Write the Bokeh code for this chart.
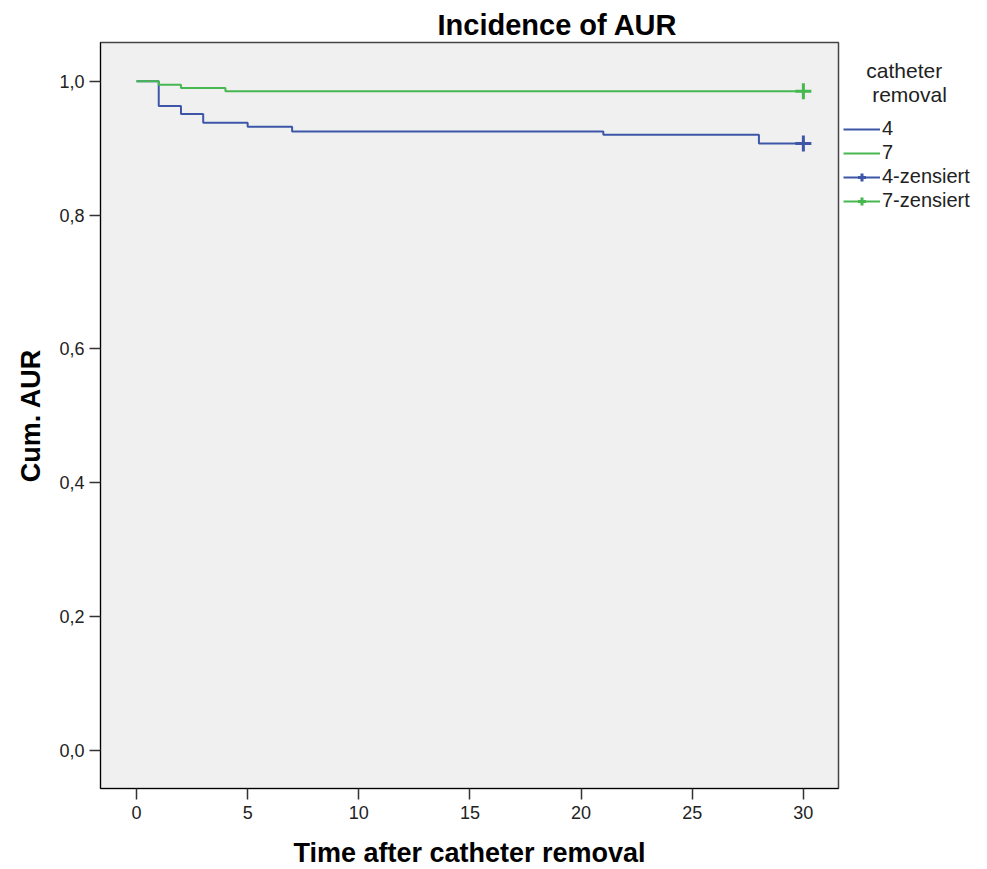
from bokeh.plotting import figure
from bokeh.models import (FixedTicker, CustomJSTickFormatter, Legend, LegendItem,
                          ColumnDataSource, Range1d)
from bokeh.embed import file_html
from bokeh.resources import INLINE

# ---- data ----
title_text = "Incidence of AUR"
x_label = "Time after catheter removal"
y_label = "Cum. AUR"
legend_title = "\u00a0\u00a0\u00a0\u00a0catheter\n\u00a0\u00a0\u00a0\u00a0\u00a0removal"
group_labels = ["4", "7"]
censor_labels = ["4-zensiert", "7-zensiert"]

times_4 = [0, 1, 2, 3, 5, 7, 21, 28, 30]
surv_4 = [1.0, 0.963, 0.951, 0.938, 0.932, 0.925, 0.920, 0.907, 0.907]
times_7 = [0, 1, 2, 4, 30]
surv_7 = [1.0, 0.995, 0.990, 0.985, 0.985]
censor_time_4 = [30]
censor_surv_4 = [0.907]
censor_time_7 = [30]
censor_surv_7 = [0.985]

x_ticks = [0, 5, 10, 15, 20, 25, 30]
y_ticks = [0.0, 0.2, 0.4, 0.6, 0.8, 1.0]

BLUE = "#3D56A8"
GREEN = "#46B850"
FONT = "Liberation Sans"
FW, FH = 738, 746

p = figure(frame_width=FW, frame_height=FH,
           x_range=Range1d(-1.62, 31.58), y_range=Range1d(-0.057, 1.058),
           output_backend="svg", toolbar_location=None,
           min_border_left=100, min_border_right=0, min_border_top=42, min_border_bottom=76,
           background_fill_color="#F0F0F0", border_fill_color="white",
           outline_line_color="#444444", outline_line_width=1.5)

p.title.text = title_text
p.title.align = "left"
p.title.offset = 337
p.title.text_font = FONT
p.title.text_font_size = "29px"
p.title.text_font_style = "bold"
p.title.text_color = "black"
p.title.standoff = 3

p.xgrid.visible = False
p.ygrid.visible = False

src4 = ColumnDataSource(dict(t=times_4, s=surv_4))
src7 = ColumnDataSource(dict(t=times_7, s=surv_7))

r4 = p.step("t", "s", source=src4, mode="after", line_color=BLUE, line_width=2)
r7 = p.step("t", "s", source=src7, mode="after", line_color=GREEN, line_width=2)
c4 = p.scatter(censor_time_4, censor_surv_4, marker="cross", size=16, line_width=3, line_color=BLUE)
c7 = p.scatter(censor_time_7, censor_surv_7, marker="cross", size=16, line_width=3, line_color=GREEN)

for ax in (p.xaxis[0], p.yaxis[0]):
    ax.axis_line_color = "black"
    ax.axis_line_width = 1
    ax.major_tick_out = 11
    ax.major_tick_in = 0
    ax.major_tick_line_color = "#333333"
    ax.major_tick_line_width = 1.5
    ax.minor_tick_line_color = None
    ax.major_label_text_font = FONT
    ax.major_label_text_font_size = "18px"
    ax.major_label_text_color = "#222222"
    ax.axis_label_text_font = FONT
    ax.axis_label_text_font_size = "27px"
    ax.axis_label_text_font_style = "bold"
    ax.axis_label_text_color = "black"

p.xaxis[0].ticker = FixedTicker(ticks=x_ticks)
p.xaxis[0].axis_label = x_label
p.xaxis[0].major_label_standoff = 6
p.xaxis[0].axis_label_standoff = 16

p.yaxis[0].ticker = FixedTicker(ticks=y_ticks)
p.yaxis[0].formatter = CustomJSTickFormatter(code="return tick.toFixed(1).replace('.', ',');")
p.yaxis[0].axis_label = y_label
p.yaxis[0].major_label_standoff = 5
p.yaxis[0].axis_label_standoff = 10

legend = Legend(items=[
    LegendItem(label=group_labels[0], renderers=[r4]),
    LegendItem(label=group_labels[1], renderers=[r7]),
    LegendItem(label=censor_labels[0], renderers=[r4, c4]),
    LegendItem(label=censor_labels[1], renderers=[r7, c7]),
], title=legend_title)
legend.title_text_font = FONT
legend.title_text_font_size = "21px"
legend.title_text_font_style = "normal"
legend.title_text_color = "#222222"
legend.title_standoff = 10
legend.label_text_font = FONT
legend.label_text_font_size = "20px"
legend.label_text_color = "#222222"
legend.label_standoff = 2
legend.glyph_width = 37
legend.glyph_height = 20
legend.label_height = 20
legend.spacing = 1
legend.padding = 0
legend.margin = 0
legend.border_line_color = None
legend.background_fill_alpha = 0
legend.location = (5, 576)
p.add_layout(legend, "right")

open("out.html", "w").write(file_html(p, INLINE))
